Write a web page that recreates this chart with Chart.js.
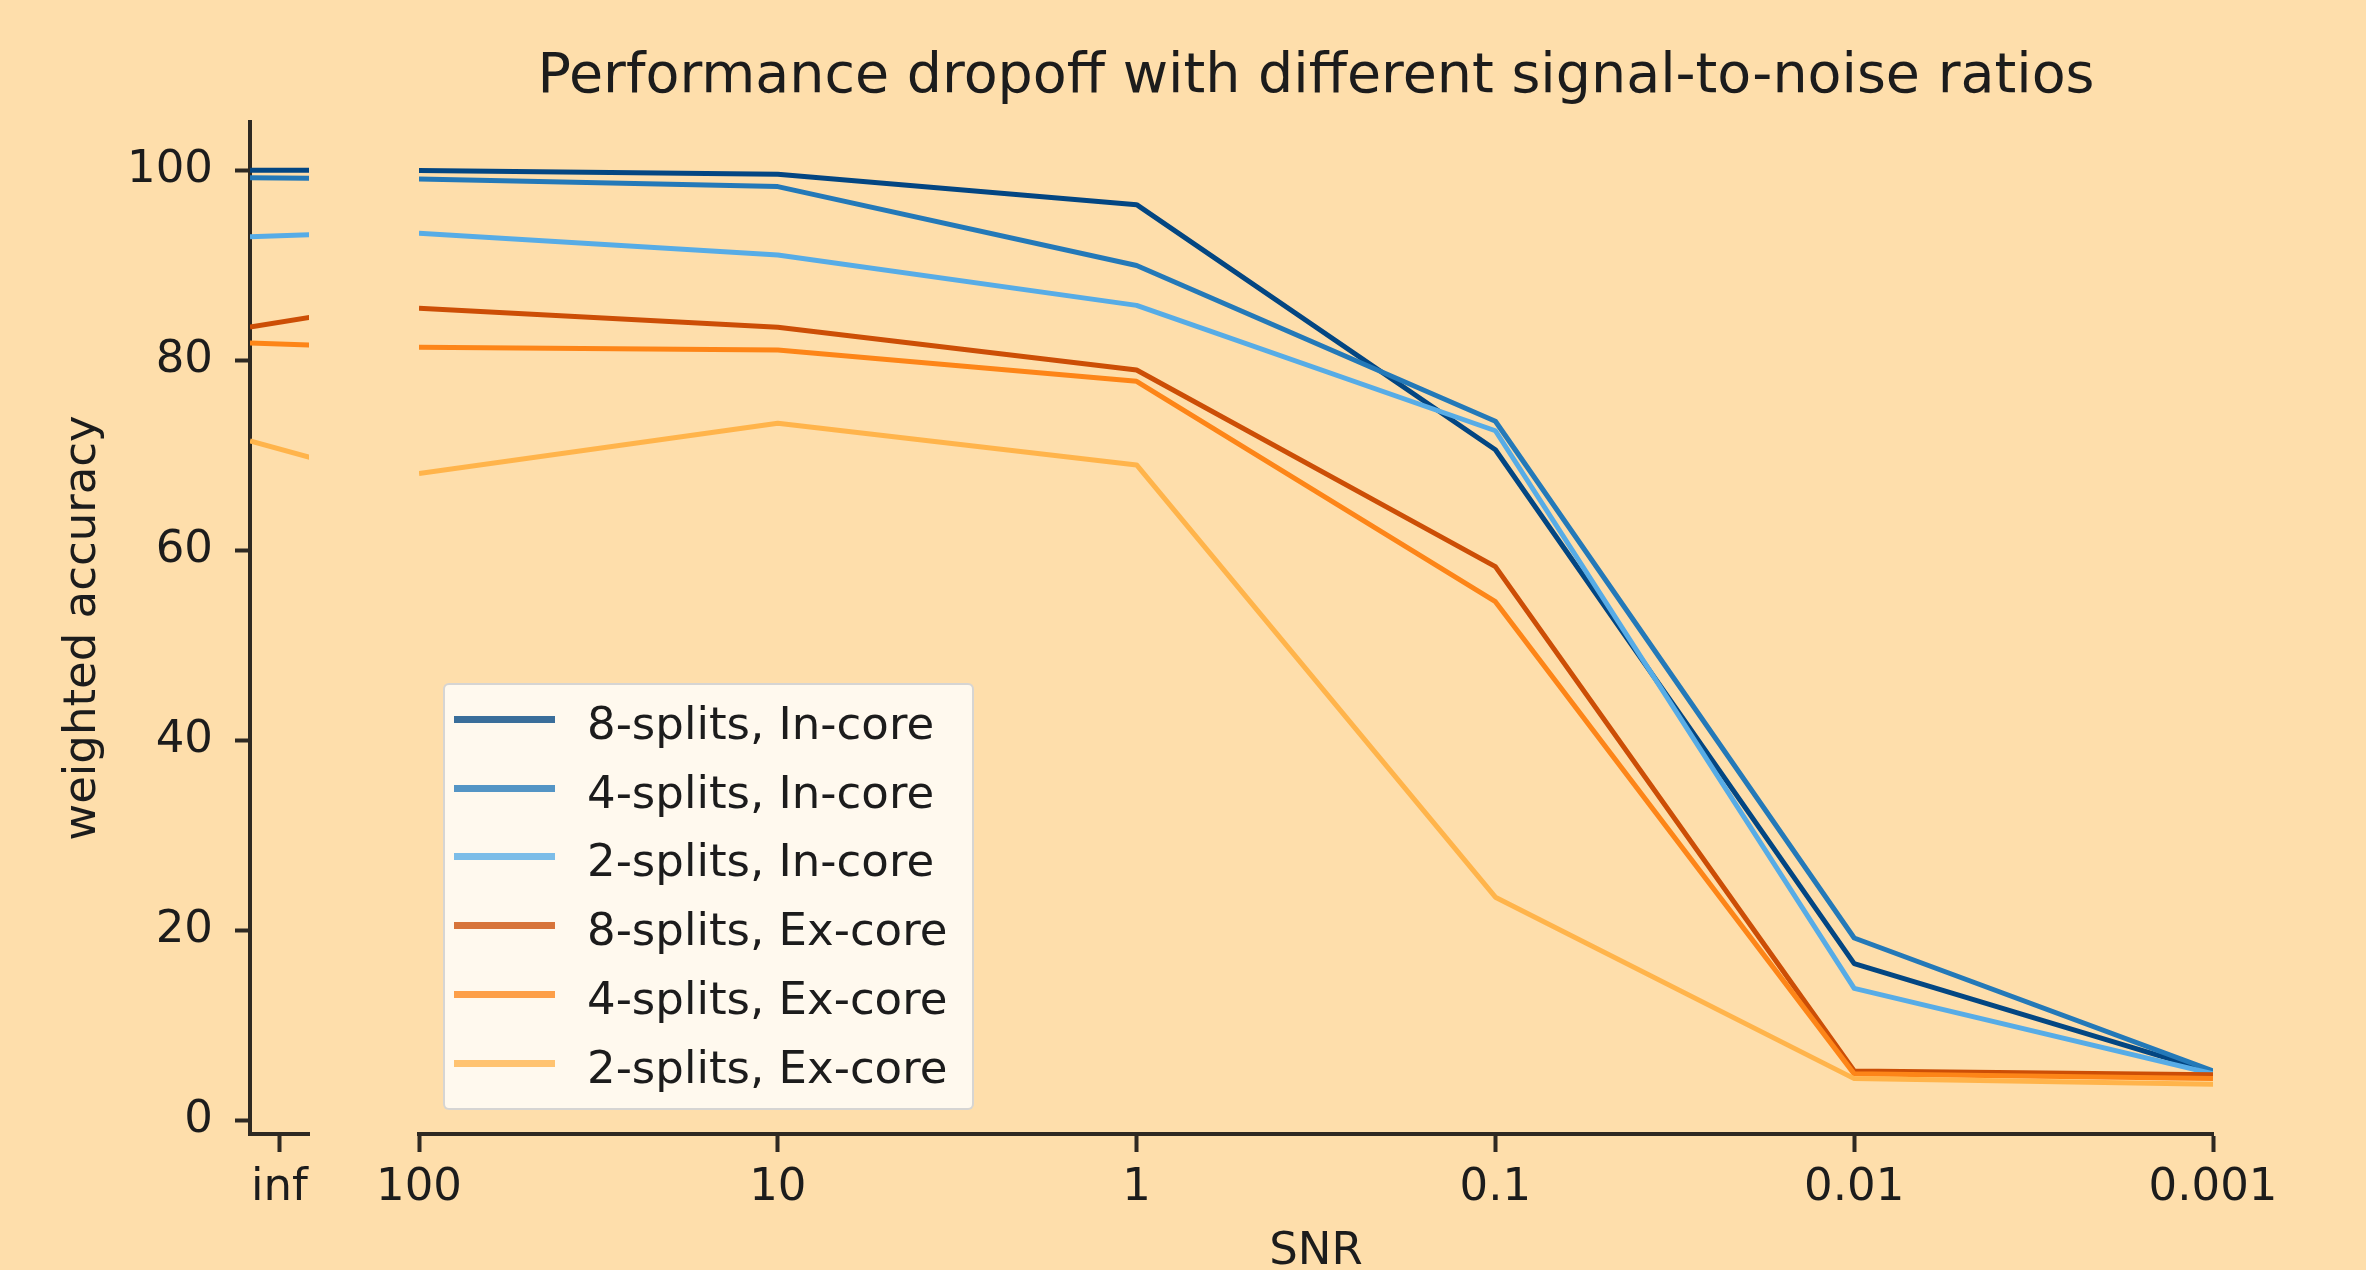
<!DOCTYPE html>
<html>
<head>
<meta charset="utf-8">
<script src="https://cdn.jsdelivr.net/npm/chart.js@4.4.1/dist/chart.umd.min.js"></script>
<style>
  html, body { margin: 0; padding: 0; background: #fedeab; }
  #wrap { position: relative; width: 2366px; height: 1270px; overflow: hidden; background: #fedeab; }
  canvas { position: absolute; left: 0; top: 0; }
  #legend {
    position: absolute; left: 443px; top: 683px; width: 527px; height: 423px;
    background: rgba(255,255,255,0.8); border: 2.5px solid rgba(204,204,204,0.8);
    border-radius: 6px; font-family: 'DejaVu Sans'; font-size: 45px; color: #1c1c1c;
  }
  .row { position: absolute; left: 0; height: 68.8px; display: flex; align-items: center; }
  .sw { width: 101px; height: 7px; margin-left: 8.5px; }
  .lab { margin-left: 32.5px; position: relative; top: 4px; white-space: nowrap; }
</style>
</head>
<body>
<div id="wrap">
  <canvas id="left" width="2366" height="1270"></canvas>
  <canvas id="main" width="2366" height="1270"></canvas>
  <div id="legend"></div>
</div>
<script>
// ---- data ----
const snrLabels = ['inf', '100', '10', '1', '0.1', '0.01', '0.001'];
const yTicks = [0, 20, 40, 60, 80, 100];
const seriesNames = ['8-splits, In-core', '4-splits, In-core', '2-splits, In-core',
                     '8-splits, Ex-core', '4-splits, Ex-core', '2-splits, Ex-core'];
const acc8In = [100.0, 100.0, 99.6, 96.4, 70.6, 16.5, 5.1];
const acc4In = [99.2, 99.1, 98.3, 90.0, 73.6, 19.2, 5.2];
const acc2In = [93.0, 93.4, 91.1, 85.8, 72.6, 13.9, 4.9];
const acc8Ex = [83.5, 85.5, 83.5, 79.0, 58.3, 5.2, 4.8];
const acc4Ex = [81.8, 81.4, 81.1, 77.8, 54.6, 4.9, 4.4];
const acc2Ex = [71.5, 68.1, 73.4, 69.0, 23.5, 4.4, 3.8];

const seriesValues = [acc8In, acc4In, acc2In, acc8Ex, acc4Ex, acc2Ex];
const seriesColors = ['#034682', '#2479b8', '#57ace6', '#cc4e06', '#fd8518', '#ffb44b'];

const FONT = 'DejaVu Sans';
const INK = '#1c1c1c';
const SPINE = '#2e2922';

function makeDatasets(pointsFor) {
  return seriesNames.map((name, i) => ({
    label: name,
    data: pointsFor(seriesValues[i]),
    borderColor: seriesColors[i],
    backgroundColor: seriesColors[i],
    borderWidth: 5,
    borderJoinStyle: 'round',
    pointRadius: 0,
    tension: 0,
    fill: false,
    order: seriesNames.length - i
  }));
}

const tickFont = { family: FONT, size: 45 };
const gridOpts = (len) => ({ display: true, drawOnChartArea: false, drawTicks: true,
                             tickLength: len, tickWidth: 4, tickColor: SPINE });
const borderOpts = { display: true, width: 4, color: SPINE };
const common = { responsive: false, animation: false, events: [] };

// ---- left (broken-axis "inf") panel ----
new Chart(document.getElementById('left'), {
  type: 'line',
  data: { datasets: makeDatasets(vals => [{ x: 0, y: vals[0] }, { x: 1, y: vals[1] }]) },
  options: {
    ...common,
    layout: { padding: { left: 0, right: 2057, top: 122, bottom: 0 } },
    plugins: { legend: { display: false }, tooltip: { enabled: false } },
    scales: {
      x: {
        type: 'linear', min: 0, max: 0.5,
        afterFit: s => { s.height = 136; },
        afterBuildTicks: s => { s.ticks = [{ value: 0.25 }]; },
        ticks: { callback: () => snrLabels[0], color: INK, font: tickFont, padding: 9,
                 maxRotation: 0, autoSkip: false },
        grid: gridOpts(18),
        border: borderOpts
      },
      y: {
        type: 'linear', position: 'left', min: -1.43, max: 105.07,
        afterFit: s => { s.width = 250; },
        afterBuildTicks: s => { s.ticks = yTicks.map(v => ({ value: v })); },
        ticks: { color: INK, font: tickFont, padding: 22 },
        grid: gridOpts(15),
        border: borderOpts,
        title: { display: true, text: 'weighted accuracy', color: INK,
                 font: { family: FONT, size: 45, lineHeight: 1.2 },
                 padding: { top: 56, bottom: 0 } }
      }
    }
  }
});

// ---- main panel ----
const mainChart = new Chart(document.getElementById('main'), {
  type: 'line',
  data: { datasets: makeDatasets(vals => vals.slice(1).map((v, j) => ({ x: j, y: v }))) },
  options: {
    ...common,
    layout: { padding: { left: 419, right: 153, top: 44.5, bottom: 0 } },
    plugins: {
      legend: { display: false },
      tooltip: { enabled: false },
      title: { display: true, text: 'Performance dropoff with different signal-to-noise ratios',
               color: INK, font: { family: FONT, size: 55.5, weight: 'normal', lineHeight: 1.2 },
               padding: { top: 0, bottom: 11.2 } }
    },
    scales: {
      x: {
        type: 'linear', position: 'bottom', min: 0, max: snrLabels.length - 2,
        afterFit: s => { s.height = 136; },
        afterBuildTicks: s => { s.ticks = snrLabels.slice(1).map((_, i) => ({ value: i })); },
        ticks: { callback: v => snrLabels[v + 1], color: INK, font: tickFont, padding: 9,
                 maxRotation: 0, autoSkip: false },
        grid: gridOpts(18),
        border: borderOpts,
        title: { display: true, text: 'SNR', color: INK,
                 font: { family: FONT, size: 45, lineHeight: 0.8 }, padding: 0 }
      },
      y: { type: 'linear', display: false, min: -1.43, max: 105.07 }
    }
  }
});

// ---- legend (HTML, built from the chart's datasets) ----
const legendEl = document.getElementById('legend');
mainChart.data.datasets.forEach((ds, i) => {
  const row = document.createElement('div');
  row.className = 'row';
  row.style.top = (i * 68.8) + 'px';
  const sw = document.createElement('div');
  sw.className = 'sw';
  sw.style.background = ds.borderColor;
  sw.style.opacity = '0.78';
  const lab = document.createElement('span');
  lab.className = 'lab';
  lab.textContent = ds.label;
  row.appendChild(sw);
  row.appendChild(lab);
  legendEl.appendChild(row);
});
</script>
</body>
</html>
